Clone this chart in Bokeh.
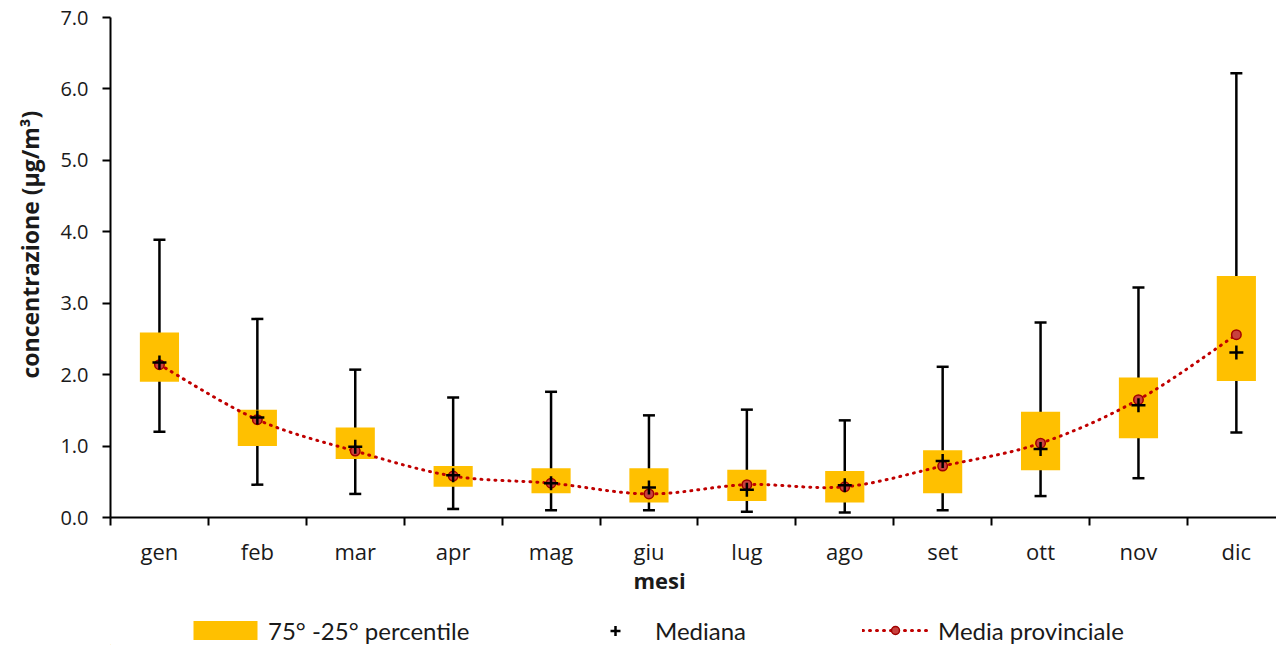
from bokeh.plotting import figure
from bokeh.layouts import column
from bokeh.models import (Range1d, FixedTicker, Legend, LegendItem, Title,
                          NumeralTickFormatter)
from bokeh.embed import file_html
from bokeh.resources import INLINE

# ---------------- data ----------------
months = ["gen", "feb", "mar", "apr", "mag", "giu", "lug", "ago", "set", "ott", "nov", "dic"]
p_min = [1.20, 0.46, 0.33, 0.12, 0.10, 0.10, 0.08, 0.07, 0.10, 0.30, 0.55, 1.19]
p_max = [3.89, 2.78, 2.07, 1.68, 1.76, 1.43, 1.51, 1.36, 2.11, 2.73, 3.22, 6.22]
p25 = [1.90, 1.00, 0.82, 0.43, 0.34, 0.21, 0.23, 0.21, 0.34, 0.66, 1.11, 1.91]
p75 = [2.59, 1.51, 1.26, 0.72, 0.69, 0.69, 0.67, 0.65, 0.94, 1.48, 1.96, 3.38]
mediana = [2.17, 1.40, 0.99, 0.59, 0.48, 0.42, 0.39, 0.45, 0.79, 0.96, 1.57, 2.31]
media = [2.14, 1.37, 0.93, 0.58, 0.48, 0.33, 0.46, 0.43, 0.72, 1.04, 1.65, 2.56]
y_ticks = [0, 1, 2, 3, 4, 5, 6, 7]
legend_labels = ["75° -25° percentile", "Mediana", "Media provinciale"]

xs = [i + 0.5 for i in range(len(months))]

FONT = "Open Sans"
TXT = "#1a1a1a"
BOX = "#FFC000"
RED = "#C00000"

p = figure(width=1276, height=600,
           x_range=Range1d(0, 11.91), y_range=Range1d(0, 7.0),
           output_backend="svg", toolbar_location=None,
           min_border_left=110, min_border_right=0,
           min_border_top=17, min_border_bottom=83)
p.outline_line_color = None
p.xgrid.visible = False
p.ygrid.visible = False

# whiskers
p.segment(x0=xs, y0=p_min, x1=xs, y1=p_max, line_color="black", line_width=2.5)
p.scatter(x=xs + xs, y=p_min + p_max, marker="dash", size=12,
          line_color="black", line_width=2.5)

# boxes
p.vbar(x=xs, width=0.4, bottom=p25, top=p75, fill_color=BOX, line_color=None)

# smoothed mean line (Bezier through the mean values)
n = len(xs)
cx0, cy0, cx1, cy1 = [], [], [], []
for i in range(n - 1):
    im = max(i - 1, 0)
    ip = min(i + 2, n - 1)
    cx0.append(xs[i] + (xs[i + 1] - xs[im]) / 6)
    cy0.append(media[i] + (media[i + 1] - media[im]) / 6)
    cx1.append(xs[i + 1] - (xs[ip] - xs[i]) / 6)
    cy1.append(media[i + 1] - (media[ip] - media[i]) / 6)
p.bezier(x0=xs[:-1], y0=media[:-1], x1=xs[1:], y1=media[1:],
         cx0=cx0, cy0=cy0, cx1=cx1, cy1=cy1,
         line_color=RED, line_width=3, line_dash="1 6", line_cap="round")

p.scatter(x=xs, y=media, size=9.5, fill_color="#C8413E",
          line_color="#A00000", line_width=1.5)
p.scatter(x=xs, y=mediana, marker="cross", size=14,
          line_color="black", line_width=2.5)

# axes
xa = p.xaxis[0]
xa.ticker = FixedTicker(ticks=xs, minor_ticks=list(range(0, 12)))
xa.major_label_overrides = {x: m for x, m in zip(xs, months)}
xa.major_tick_line_color = None
xa.major_tick_out = 8
xa.major_tick_in = 0
xa.minor_tick_line_color = "black"
xa.minor_tick_line_width = 2
xa.minor_tick_in = 0
xa.minor_tick_out = 8
xa.axis_line_width = 2
xa.axis_line_color = "black"
xa.major_label_text_font = FONT
xa.major_label_text_font_size = "22px"
xa.major_label_text_color = TXT
xa.major_label_standoff = 10

ya = p.yaxis[0]
ya.ticker = FixedTicker(ticks=y_ticks)
ya.formatter = NumeralTickFormatter(format="0.0")
ya.major_tick_in = 0
ya.major_tick_out = 8
ya.major_tick_line_width = 2
ya.minor_tick_line_color = None
ya.axis_line_width = 2
ya.axis_line_color = "black"
ya.major_label_text_font = FONT
ya.major_label_text_font_size = "20px"
ya.major_label_text_color = TXT
ya.major_label_standoff = 14

p.add_layout(Title(text="concentrazione (µg/m³)", align="left", offset=139,
                   standoff=22, vertical_align="middle",
                   text_font=FONT, text_font_style="bold",
                   text_font_size="23px", text_color=TXT), "left")

p.add_layout(Title(text="mesi", align="left", offset=523, standoff=-7,
                   vertical_align="top",
                   text_font=FONT, text_font_style="bold",
                   text_font_size="22px", text_color=TXT), "below")

# ---------------- legend strip ----------------
lg = figure(width=1276, height=45, x_range=Range1d(0, 1276), y_range=Range1d(0, 45),
            output_backend="svg", toolbar_location=None,
            x_axis_type=None, y_axis_type=None,
            min_border_left=0, min_border_right=0, min_border_top=0, min_border_bottom=0)
lg.outline_line_color = None
lg.xgrid.visible = False
lg.ygrid.visible = False

r_box = lg.vbar(x=[-100], width=1, bottom=[0], top=[1], fill_color=BOX, line_color=None)
r_plus = lg.scatter(x=[-100], y=[0], marker="cross", size=14,
                    line_color="black", line_width=2.5)
r_line = lg.line(x=[-100, -99], y=[0, 0], line_color=RED, line_width=3,
                 line_dash="1 6", line_cap="round")
r_circ = lg.scatter(x=[-100], y=[0], size=9, fill_color="#C8413E",
                    line_color="#A00000", line_width=1.5)

common = dict(orientation="horizontal", padding=0, margin=0, spacing=0,
              border_line_color=None, background_fill_alpha=0,
              label_text_font="Lato", label_text_font_size="24px",
              label_text_color=TXT, label_height=30)
leg1 = Legend(items=[LegendItem(label=legend_labels[0], renderers=[r_box])],
              location=(75, 0), glyph_width=80, glyph_height=24,
              label_standoff=3, **common)
leg2 = Legend(items=[LegendItem(label=legend_labels[1], renderers=[r_plus])],
              location=(473, 0), glyph_width=64, glyph_height=25,
              label_standoff=8, **common)
leg3 = Legend(items=[LegendItem(label=legend_labels[2], renderers=[r_line, r_circ])],
              location=(752, 0), glyph_width=66, glyph_height=20,
              label_standoff=10, **common)
for l in (leg1, leg2, leg3):
    lg.add_layout(l)

layout = column(p, lg, spacing=0)
open("out.html", "w").write(file_html(layout, INLINE))
